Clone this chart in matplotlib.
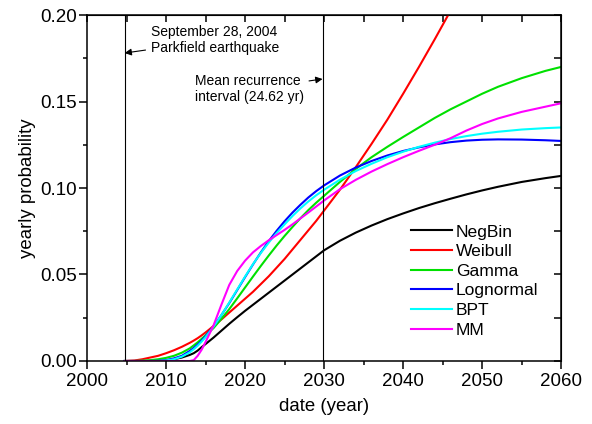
import matplotlib
matplotlib.use("Agg")
import matplotlib.pyplot as plt
from matplotlib.ticker import MultipleLocator, FormatStrFormatter

plt.rcParams["font.family"] = ["Liberation Sans", "DejaVu Sans"]

years = [2004.75, 2006, 2007, 2008, 2009, 2010, 2011, 2012, 2013, 2013.5, 2014,
         2014.5, 2015, 2016, 2017, 2018, 2019, 2020, 2021, 2022, 2023, 2024,
         2025, 2026, 2027, 2028, 2029, 2030, 2032, 2034, 2036, 2038, 2040,
         2042, 2044, 2046, 2048, 2050, 2052, 2055, 2058, 2060]

negbin = [0, 0, 0, 0, 0, 0.0003, 0.001, 0.002, 0.0035, 0.0045, 0.006,
          0.008, 0.0098, 0.0135, 0.0175, 0.0215, 0.0253, 0.029, 0.0325, 0.036, 0.0395, 0.043,
          0.0465, 0.050, 0.0535, 0.057, 0.0605, 0.064, 0.0695, 0.0742, 0.0783, 0.082, 0.0853,
          0.0884, 0.0912, 0.0938, 0.0963, 0.0986, 0.1007, 0.1035, 0.1057, 0.107]
weibull = [0, 0.0003, 0.001, 0.002, 0.003, 0.0045, 0.0062, 0.0082, 0.0105, 0.0118, 0.0132,
           0.0148, 0.0165, 0.0202, 0.024, 0.028, 0.032, 0.036, 0.040, 0.0445, 0.049, 0.054,
           0.059, 0.0645, 0.070, 0.0755, 0.081, 0.087, 0.099, 0.112, 0.1255, 0.1395, 0.1545,
           0.170, 0.186, 0.2025, 0.219, 0.236, 0.25, 0.28, 0.31, 0.33]
gamma = [0, 0, 0.0002, 0.0005, 0.001, 0.0018, 0.003, 0.0048, 0.0073, 0.009, 0.0108,
         0.0128, 0.0148, 0.019, 0.0243, 0.030, 0.0362, 0.0425, 0.0488, 0.055, 0.061, 0.0668,
         0.0723, 0.0775, 0.0825, 0.0872, 0.0915, 0.0955, 0.1035, 0.111, 0.1178, 0.1238, 0.1295,
         0.135, 0.1405, 0.1455, 0.150, 0.1545, 0.1585, 0.1635, 0.1677, 0.170]
lognormal = [0, 0, 0, 0, 0.0001, 0.0005, 0.0015, 0.003, 0.0058, 0.0075, 0.0095,
             0.0118, 0.0143, 0.020, 0.0265, 0.0335, 0.041, 0.0485, 0.0558, 0.0628, 0.0693, 0.0753,
             0.0808, 0.0858, 0.0903, 0.0945, 0.0982, 0.1015, 0.1072, 0.1118, 0.1156, 0.1188, 0.1214,
             0.1235, 0.1252, 0.1265, 0.1274, 0.1279, 0.1281, 0.128, 0.1276, 0.1272]
bpt = [0, 0, 0, 0, 0, 0.0003, 0.001, 0.0025, 0.005, 0.0068, 0.0088,
       0.0112, 0.0138, 0.0198, 0.0265, 0.0338, 0.0413, 0.0488, 0.056, 0.0625, 0.0685, 0.074,
       0.079, 0.0838, 0.0882, 0.0922, 0.0958, 0.099, 0.1048, 0.1098, 0.114, 0.1178, 0.121,
       0.1238, 0.1262, 0.1283, 0.130, 0.1314, 0.1325, 0.1338, 0.1346, 0.135]
mm = [0, 0, 0, 0, 0, 0, 0, 0, 0, 0.0005, 0.003,
      0.0065, 0.011, 0.0205, 0.0325, 0.044, 0.052, 0.058, 0.0628, 0.0665, 0.0698, 0.0728,
      0.0758, 0.079, 0.0824, 0.0858, 0.0893, 0.0928, 0.0993, 0.1047, 0.1095, 0.1138, 0.1178,
      0.1215, 0.125, 0.1288, 0.1332, 0.137, 0.1402, 0.144, 0.147, 0.149]

series = [("NegBin", negbin, "black"), ("Weibull", weibull, "#ff0000"),
          ("Gamma", gamma, "#00e000"), ("Lognormal", lognormal, "#0000ff"),
          ("BPT", bpt, "#00ffff"), ("MM", mm, "#ff00ff")]

quake_year = 2004.75
recurrence_year = 2029.8

fig = plt.figure(figsize=(5.92, 4.24), dpi=100)
ax = fig.add_axes([0.147, 0.1486, 0.801, 0.816])

for name, vals, col in series:
    ax.plot(years, vals, color=col, lw=1.5, label=name)

ax.axvline(quake_year, color="black", lw=0.8)
ax.axvline(recurrence_year, color="black", lw=0.8)

ax.set_xlim(2000, 2060)
ax.set_ylim(0, 0.2)
ax.xaxis.set_major_locator(MultipleLocator(10))
ax.xaxis.set_minor_locator(MultipleLocator(5))
ax.yaxis.set_major_locator(MultipleLocator(0.05))
ax.yaxis.set_minor_locator(MultipleLocator(0.025))
ax.yaxis.set_major_formatter(FormatStrFormatter("%.2f"))
ax.tick_params(which="major", direction="out", length=5.5, width=1.1, labelsize=13.5)
ax.tick_params(axis="y", which="major", pad=2)
ax.tick_params(axis="x", which="major", pad=3)
ax.tick_params(which="minor", direction="out", length=3, width=1.1)
for s in ax.spines.values():
    s.set_linewidth(1.1)

top = ax.secondary_xaxis("top")
top.xaxis.set_major_locator(MultipleLocator(5))
top.tick_params(direction="in", length=5, width=1.1, labeltop=False)
right = ax.secondary_yaxis("right")
right.yaxis.set_major_locator(MultipleLocator(0.025))
right.tick_params(direction="in", length=5, width=1.1, labelright=False)

ax.set_xlabel("date (year)", fontsize=13.4, labelpad=6)
ax.set_ylabel("yearly probability", fontsize=13.4, labelpad=3)

ax.annotate("September 28, 2004\nParkfield earthquake", xy=(quake_year, 0.178),
            xytext=(2008.1, 0.1855), fontsize=10, va="center", ha="left",
            arrowprops=dict(arrowstyle="-|>", color="black", lw=0.8, shrinkA=2, shrinkB=0))
ax.annotate("Mean recurrence\ninterval (24.62 yr)", xy=(recurrence_year, 0.163),
            xytext=(2013.6, 0.157), fontsize=10, va="center", ha="left",
            arrowprops=dict(arrowstyle="-|>", color="black", lw=0.8, shrinkA=2, shrinkB=0))

ax.legend(loc="upper left", bbox_to_anchor=(0.684, 0.395), frameon=False,
          fontsize=12.6, handlelength=2.3, handletextpad=0.23, labelspacing=0.25,
          borderpad=0, borderaxespad=0)

fig.savefig("out.png", dpi=100)
